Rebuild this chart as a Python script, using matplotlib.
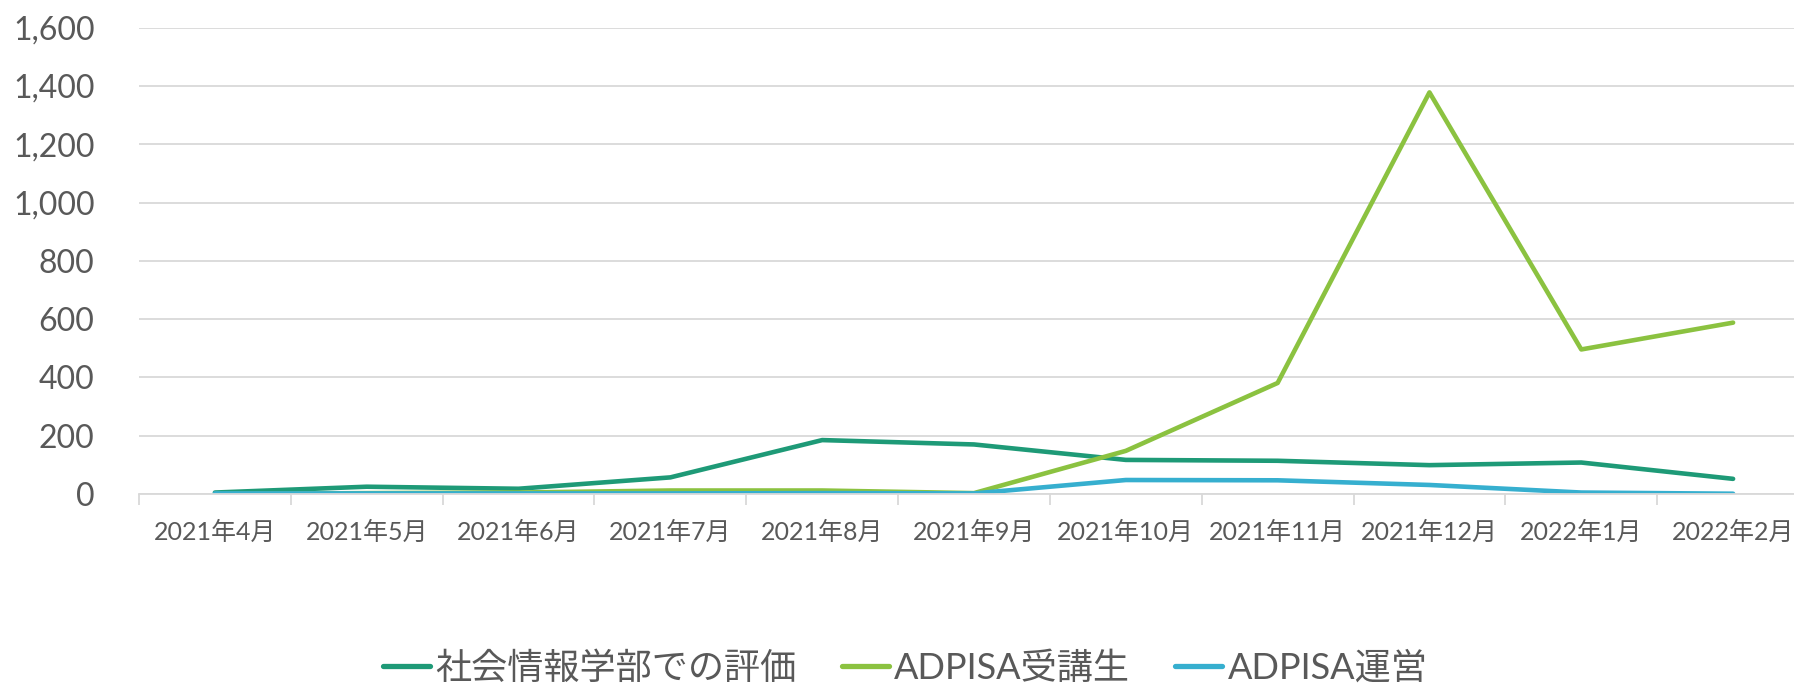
import matplotlib
matplotlib.use("Agg")
import matplotlib.pyplot as plt
import numpy as np

plt.rcParams['font.family'] = ['Lato', 'Noto Sans CJK JP', 'DejaVu Sans']

categories = ["2021年4月", "2021年5月", "2021年6月", "2021年7月", "2021年8月", "2021年9月",
              "2021年10月", "2021年11月", "2021年12月", "2022年1月", "2022年2月"]
series_names = ["社会情報学部での評価", "ADPISA受講生", "ADPISA運営"]
shakai = [5, 25, 18, 57, 185, 170, 117, 114, 99, 108, 52]
jukosei = [0, 3, 5, 12, 12, 3, 148, 381, 1378, 496, 588]
unei = [2, 2, 2, 2, 3, 2, 48, 47, 31, 5, 1]
yticks = [0, 200, 400, 600, 800, 1000, 1200, 1400, 1600]
colors = ["#1E9A77", "#8BC240", "#36AFCF"]

fig = plt.figure(figsize=(17.94, 6.85), dpi=100)
ax = fig.add_axes([139/1794, 191/685, 1670/1794, (494-27.7)/685])

x = np.arange(len(categories))
for vals, name, c in zip([shakai, jukosei, unei], series_names, colors):
    ax.plot(x, vals, color=c, lw=3.3, label=name, solid_capstyle='round', solid_joinstyle='round')

ax.set_xlim(-0.5, len(categories) - 0.5)
ax.set_ylim(0, 1600)
ax.set_yticks(yticks)
ax.set_yticklabels([f"{v:,}" for v in yticks])
ax.grid(axis='y', color='#d9d9d9', lw=1.3)
ax.set_axisbelow(True)

ax.set_xticks(np.arange(-0.5, len(categories)), minor=False)
ax.set_xticklabels([])
ax.set_xticks(x, minor=True)
ax.set_xticklabels(categories, minor=True)
ax.tick_params(axis='x', which='major', length=8, color='#d9d9d9', width=1.3)
ax.tick_params(axis='x', which='minor', length=0, pad=19, labelsize=18, labelcolor='#595959')
ax.tick_params(axis='y', length=0, pad=32, labelsize=23, labelcolor='#595959')

for s in ['top', 'right', 'left']:
    ax.spines[s].set_visible(False)
ax.spines['bottom'].set_color('#d9d9d9')
ax.spines['bottom'].set_linewidth(1.3)

leg = fig.legend(loc='center', bbox_to_anchor=(0.5045, 17/685), ncol=3, frameon=False,
                 fontsize=26, handlelength=1.3, handletextpad=0.15, columnspacing=1.25,
                 labelcolor='#595959')
for line in leg.get_lines():
    line.set_linewidth(3.8)

fig.savefig("out.png", dpi=100, facecolor='white')
